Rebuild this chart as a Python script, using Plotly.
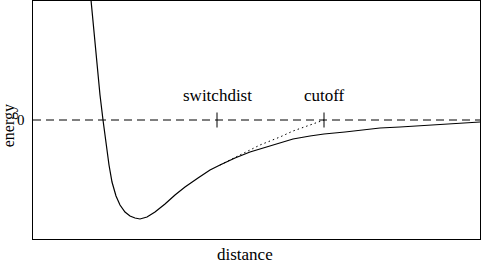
import plotly.graph_objects as go

# potential curve (distance, energy) in arbitrary units
dist = [0.58, 0.61, 0.64, 0.67, 0.70, 0.73, 0.76, 0.79, 0.83, 0.87, 0.92, 0.97, 1.02, 1.07,
        1.14, 1.22, 1.32, 1.42, 1.52, 1.65, 1.77, 1.87, 2.02, 2.17, 2.37, 2.60, 2.77, 2.91,
        3.12, 3.27, 3.47, 3.67, 3.97, 4.22, 4.47]
energy = [1.20, 0.87, 0.53, 0.25, 0.00, -0.25, -0.45, -0.62, -0.76, -0.85, -0.92, -0.96, -0.98, -0.99,
          -0.97, -0.92, -0.84, -0.75, -0.67, -0.58, -0.50, -0.45, -0.38, -0.32, -0.26, -0.19, -0.16, -0.14,
          -0.12, -0.10, -0.08, -0.07, -0.05, -0.04, -0.02]

# switched curve between switchdist and cutoff
sw_dist = [1.87, 2.07, 2.27, 2.47, 2.60, 2.77, 2.91]
sw_energy = [-0.45, -0.35, -0.25, -0.17, -0.11, -0.05, 0.00]

switchdist = 1.84
cutoff = 2.91
x_range = [0, 4.47]
y_range = [-1.19, 1.19]
tick_half = 0.075
ytick_vals = [0]
ytick_text = ["0"]

font_family = "Liberation Serif"
fsize = 17

fig = go.Figure()
# zero line
fig.add_trace(go.Scatter(x=x_range, y=[0, 0], mode="lines",
                         line=dict(color="black", width=1, dash="8px,5px")))
# ticks at switchdist and cutoff
for xv in (switchdist, cutoff):
    fig.add_trace(go.Scatter(x=[xv, xv], y=[-tick_half, tick_half], mode="lines",
                             line=dict(color="black", width=1)))
# switched curve (dotted)
fig.add_trace(go.Scatter(x=sw_dist, y=sw_energy, mode="lines",
                         line=dict(color="black", width=1, dash="1.5px,3px")))
# full potential
fig.add_trace(go.Scatter(x=dist, y=energy, mode="lines",
                         line=dict(color="black", width=1.2)))

for xv, label in ((switchdist, "switchdist"), (cutoff, "cutoff")):
    fig.add_annotation(x=xv, y=0.25, text=label, showarrow=False,
                       font=dict(family=font_family, size=fsize, color="black"), yanchor="middle")

# y tick label
for yv, t in zip(ytick_vals, ytick_text):
    fig.add_annotation(xref="paper", x=-0.027, y=yv, text=t, showarrow=False,
                       xanchor="center", yanchor="middle",
                       font=dict(family=font_family, size=15, color="black"))

# axis titles as annotations (positioned like the reference)
fig.add_annotation(xref="paper", yref="paper", x=0.474, y=-0.066, text="distance",
                   showarrow=False, yanchor="middle", xanchor="center",
                   font=dict(family=font_family, size=fsize, color="black"))
fig.add_annotation(xref="paper", yref="paper", x=-0.053, y=0.475, text="energy",
                   showarrow=False, textangle=-90, xanchor="center", yanchor="middle",
                   borderpad=0,
                   font=dict(family=font_family, size=16, color="black"))

fig.update_layout(
    width=481, height=264,
    margin=dict(l=33, r=1, t=1, b=25),
    paper_bgcolor="white", plot_bgcolor="white",
    showlegend=False,
    font=dict(family=font_family, size=fsize, color="black"),
    xaxis=dict(range=x_range, showgrid=False, zeroline=False, showline=True, mirror=True,
               linecolor="black", linewidth=1, showticklabels=False, ticks=""),
    yaxis=dict(range=y_range, showgrid=False, zeroline=False, showline=True, mirror=True,
               linecolor="black", linewidth=1, tickvals=ytick_vals, showticklabels=False,
               ticks=""),
)

fig.write_html("out.html")
